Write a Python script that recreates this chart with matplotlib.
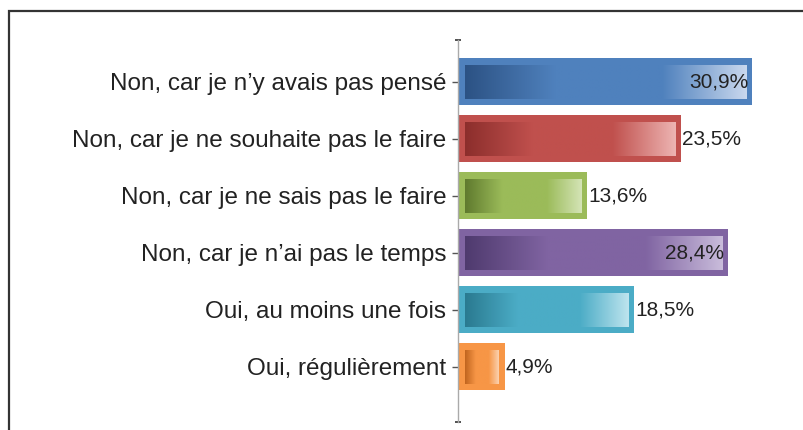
import matplotlib
matplotlib.use('Agg')
import matplotlib.pyplot as plt
import numpy as np
from matplotlib.colors import LinearSegmentedColormap, to_rgb
from matplotlib.patches import Rectangle

# ######################## Data ########################
categories = [
    "Non, car je n\u2019y avais pas pensé",
    "Non, car je ne souhaite pas le faire",
    "Non, car je ne sais pas le faire",
    "Non, car je n\u2019ai pas le temps",
    "Oui, au moins une fois",
    "Oui, régulièrement",
]
values = [30.9, 23.5, 13.6, 28.4, 18.5, 4.9]
inside_label = [True, False, False, True, False, False]

base_colors = ['#4F81BD', '#C0504D', '#9BBB59', '#8064A2', '#4BACC6', '#F79646']
dark_colors = ['#2C5284', '#8C2E2C', '#5F7A2E', '#4F3A6E', '#2A7A90', '#C0641E']
light_colors = ['#C9D8EE', '#EDB4B2', '#D4E4B6', '#C9BCDB', '#BDE4EE', '#FBD2B0']

plt.rcParams['font.family'] = ['Liberation Sans', 'DejaVu Sans']

# ######################## Figure ########################
fig = plt.figure(figsize=(8.04, 4.30), dpi=100)
fig.patch.set_facecolor('white')

# frame around the chart area (left and top edges visible)
fig.add_artist(Rectangle((9.5 / 804, -0.5), 2.0, 1.5 - 10.5 / 430,
                         transform=fig.transFigure, fill=False,
                         edgecolor='#333333', linewidth=1.6))

ax_left = 458 / 804
ax_right = 795 / 804
ax_top = 1 - 40 / 430
ax_bot = 1 - 422 / 430
ax = fig.add_axes([ax_left, ax_bot, ax_right - ax_left, ax_top - ax_bot])

px_per_unit = 9.51
xmax = (795 - 458) / px_per_unit

ypos = np.arange(len(categories))
bar_h = 0.82
bars = ax.barh(ypos, values, height=bar_h, color=base_colors, edgecolor='none', zorder=2)

# gradient inner fill
inset_x = 7 / px_per_unit
inset_y = 7 / 57
grad = np.linspace(0, 1, 256).reshape(1, -1)
for i, v in enumerate(values):
    cmap = LinearSegmentedColormap.from_list(
        'g%d' % i,
        [(0.0, to_rgb(dark_colors[i])), (0.32, to_rgb(base_colors[i])),
         (0.7, to_rgb(base_colors[i])), (1.0, to_rgb(light_colors[i]))])
    x0 = inset_x
    x1 = v - inset_x * 0.8
    y0 = ypos[i] - bar_h / 2 + inset_y
    y1 = ypos[i] + bar_h / 2 - inset_y * 0.85
    ax.imshow(grad, cmap=cmap, aspect='auto', extent=(x0, x1, y1, y0),
              zorder=3, interpolation='bilinear')

# value labels
for i, v in enumerate(values):
    txt = ('%.1f' % v).replace('.', ',') + '%'
    if inside_label[i]:
        ax.text(v - 0.4, ypos[i], txt, ha='right', va='center',
                fontsize=15, color='#222222', zorder=4)
    else:
        ax.text(v + 0.1, ypos[i], txt, ha='left', va='center',
                fontsize=15, color='#222222', zorder=4)

ax.set_xlim(0, xmax)
ax.set_ylim(5.97, -0.73)

# axes styling
for s in ['top', 'right', 'bottom']:
    ax.spines[s].set_visible(False)
ax.spines['left'].set_color('#AAAAAA')
ax.spines['left'].set_linewidth(1.0)
ax.set_xticks([])
ax.set_yticks(ypos)
ax.set_yticklabels(categories, fontsize=17.5, color='#222222')
ax.tick_params(axis='y', direction='out', length=4.5, width=1.0,
               color='#555555', pad=4)
ax.set_yticks([-0.73, 5.97], minor=True)
ax.tick_params(axis='y', which='minor', direction='inout', length=5,
               width=1.2, color='#333333')
ax.set_facecolor('none')

fig.savefig('out.png', dpi=100, facecolor='white')
